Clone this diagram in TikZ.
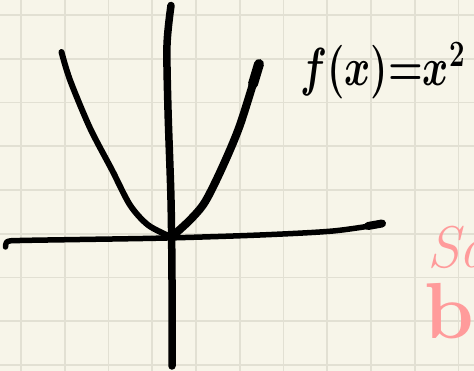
\documentclass[tikz,border=0pt]{standalone}
\definecolor{paper}{HTML}{F7F5E9}
\definecolor{gridc}{HTML}{E2E0D3}
\definecolor{pinkc}{HTML}{FF9B9B}
\tikzset{
  gridline/.style={draw=gridc, line width=1.8pt},
  ink/.style={draw=black, line width=#1, line cap=round, line join=round},
  ink/.default=6pt,
  pinktext/.style={text=pinkc, inner sep=0pt, anchor=base west},
}
\begin{document}
\begin{tikzpicture}[x=1pt,y=-1pt]
\useasboundingbox (0,0) rectangle (474,371);
\clip (0,0) rectangle (474,371);
\fill[paper] (0,0) rectangle (474,371);
% grid
\foreach \k in {0,...,10} {
  \draw[gridline] ({21+43.75*\k},0) -- ({21+43.75*\k},371);
}
\foreach \k in {0,...,8} {
  \draw[gridline] (0,{15+43.75*\k}) -- (474,{15+43.75*\k});
}
% x-axis
\draw[ink=5.5pt] plot[smooth] coordinates {(5.5,247) (7.5,241.5) (20,240.5) (80,239.5) (167,238) (260,235) (333,231) (382,224)};
\draw[ink=8pt] (368,226) -- (382,223.5);
% y-axis
\draw[ink=7.5pt] plot[smooth] coordinates {(171,5.5) (167,45) (168,110) (171,200) (172,280) (172,366)};
% left branch
\draw[ink=6pt] plot[smooth] coordinates {(61.5,52) (70,80) (90,128) (112,170) (130,205) (148,225) (170,236.5)};
% right branch
\draw[ink=8pt] plot[smooth] coordinates {(172,236.5) (190,220) (205,202) (222,168) (240,125) (259,64)};
\draw[ink=10pt] (259,64) -- (253,84);
% label
\node[inner sep=0pt, anchor=base west, font=\LARGE] (lab) at (300,86) {\scalebox{2.3}[3.1]{\boldmath$f(x){=}x^{2}$}};
% pink partial text at right edge
\node[pinktext, font=\itshape\LARGE] (p1) at (427,268) {\scalebox{3.4}{Sa}};
\node[pinktext, font=\bfseries\LARGE] (p2) at (424,338) {\scalebox{4.6}{bly}};
\end{tikzpicture}
\end{document}
